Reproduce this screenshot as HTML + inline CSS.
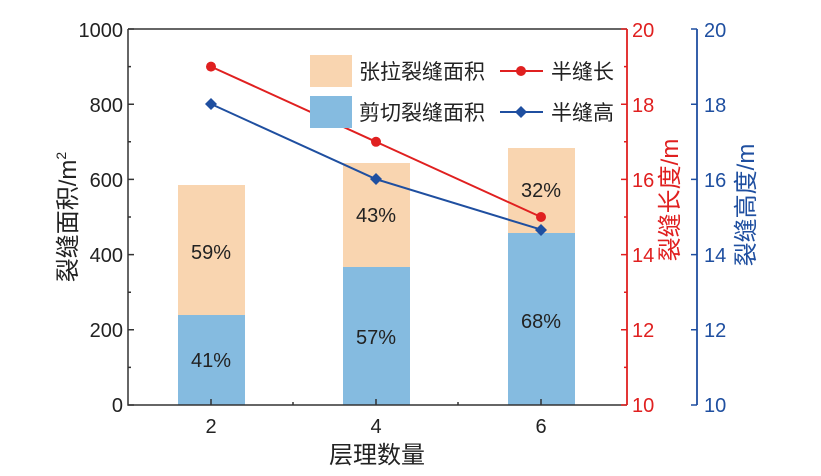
<!DOCTYPE html>
<html><head><meta charset="utf-8"><style>body{margin:0;background:#fff}svg{display:block}</style></head><body>
<svg width="821" height="476" xmlns="http://www.w3.org/2000/svg" font-family="Liberation Sans, Noto Sans CJK SC, sans-serif">
<g>
<rect x="178" y="185" width="67" height="130" fill="#f9d5b0"/>
<rect x="178" y="315" width="67" height="90" fill="#85bbe0"/>
<rect x="343" y="163" width="67" height="104" fill="#f9d5b0"/>
<rect x="343" y="267" width="67" height="138" fill="#85bbe0"/>
<rect x="508" y="148" width="67" height="85" fill="#f9d5b0"/>
<rect x="508" y="233" width="67" height="172" fill="#85bbe0"/>
</g>
<g font-size="20" fill="#222" text-anchor="middle">
<text x="211" y="259">59%</text><text x="211" y="367">41%</text>
<text x="376" y="222">43%</text><text x="376" y="344">57%</text>
<text x="541" y="197">32%</text><text x="541" y="328">68%</text>
</g>
<polyline points="211,66.6 376,141.8 541,217" fill="none" stroke="#e02020" stroke-width="2"/>
<g fill="#e02020"><circle cx="211" cy="66.6" r="5"/><circle cx="376" cy="141.8" r="5"/><circle cx="541" cy="217" r="5"/></g>
<polyline points="211,104 376,179.2 541,229.6" fill="none" stroke="#1f4fa0" stroke-width="2"/>
<g fill="#1f4fa0"><path d="M211 98l6 6-6 6-6-6z"/><path d="M376 173l6 6-6 6-6-6z"/><path d="M541 224l6 6-6 6-6-6z"/></g>
<path d="M128 29V405H627M128 29H627" fill="none" stroke="#333" stroke-width="1.5"/>
<g stroke="#333" stroke-width="1.5">
<path d="M128 405h6M128 329.8h6M128 254.6h6M128 179.4h6M128 104.2h6M128 29h6"/>
<path d="M128 367.4h3M128 292.2h3M128 217h3M128 141.8h3M128 66.6h3"/>
<path d="M211 405v-6M376 405v-6M541 405v-6M293 405v-3M458 405v-3"/>
</g>
<g font-size="20" fill="#222" text-anchor="end">
<text x="123" y="412">0</text><text x="123" y="337">200</text><text x="123" y="262">400</text><text x="123" y="187">600</text><text x="123" y="112">800</text><text x="123" y="37">1000</text>
</g>
<g font-size="20" fill="#222" text-anchor="middle">
<text x="211" y="433">2</text><text x="376" y="433">4</text><text x="541" y="433">6</text>
</g>
<text x="377" y="463" font-size="24" fill="#222" text-anchor="middle">层理数量</text>
<text transform="translate(76 217) rotate(-90)" font-size="24" fill="#222" text-anchor="middle">裂缝面积/m<tspan font-size="14" dy="-10">2</tspan></text>
<path d="M627 29V405" stroke="#e02020" stroke-width="1.8"/>
<g stroke="#e02020" stroke-width="1.5">
<path d="M627 405h-6M627 329.8h-6M627 254.6h-6M627 179.4h-6M627 104.2h-6M627 29h-6"/>
<path d="M627 367.4h-3M627 292.2h-3M627 217h-3M627 141.8h-3M627 66.6h-3"/>
</g>
<g font-size="20" fill="#e02020">
<text x="632" y="412">10</text><text x="632" y="337">12</text><text x="632" y="262">14</text><text x="632" y="187">16</text><text x="632" y="112">18</text><text x="632" y="37">20</text>
</g>
<text transform="translate(678 200) rotate(-90)" font-size="24" fill="#e02020" text-anchor="middle">裂缝长度/m</text>
<path d="M697 29V405" stroke="#1f4fa0" stroke-width="1.8"/>
<g stroke="#1f4fa0" stroke-width="1.5">
<path d="M697 405h-6M697 329.8h-6M697 254.6h-6M697 179.4h-6M697 104.2h-6M697 29h-6"/>
</g>
<g font-size="20" fill="#1f4fa0">
<text x="704" y="412">10</text><text x="704" y="337">12</text><text x="704" y="262">14</text><text x="704" y="187">16</text><text x="704" y="112">18</text><text x="704" y="37">20</text>
</g>
<text transform="translate(754 205) rotate(-90)" font-size="24" fill="#1f4fa0" text-anchor="middle">裂缝高度/m</text>
<rect x="310" y="55" width="42" height="32" fill="#f9d5b0"/>
<rect x="310" y="96" width="42" height="32" fill="#85bbe0"/>
<g font-size="21" fill="#222">
<text x="359" y="79">张拉裂缝面积</text><text x="359" y="120">剪切裂缝面积</text>
<text x="551" y="79">半缝长</text><text x="551" y="120">半缝高</text>
</g>
<path d="M500 71h43" stroke="#e02020" stroke-width="2"/><circle cx="521" cy="71" r="5" fill="#e02020"/>
<path d="M500 112h43" stroke="#1f4fa0" stroke-width="2"/><path d="M521 106l6 6-6 6-6-6z" fill="#1f4fa0"/>
</svg>
</body></html>
